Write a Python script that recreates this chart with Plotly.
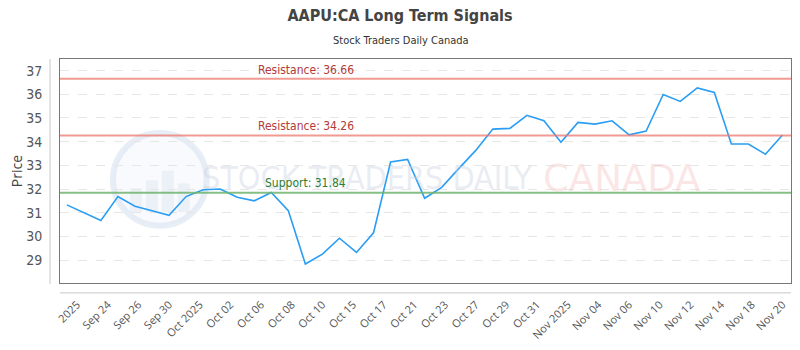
import numpy as np
import plotly.graph_objects as go

# ---- data ----
dates = ["2025-09-22","2025-09-23","2025-09-24","2025-09-25","2025-09-26","2025-09-29","2025-09-30",
         "2025-10-01","2025-10-02","2025-10-03","2025-10-06","2025-10-07","2025-10-08","2025-10-09",
         "2025-10-10","2025-10-14","2025-10-15","2025-10-16","2025-10-17","2025-10-20","2025-10-21",
         "2025-10-22","2025-10-23","2025-10-24","2025-10-27","2025-10-28","2025-10-29","2025-10-30",
         "2025-10-31","2025-11-03","2025-11-04","2025-11-05","2025-11-06","2025-11-07","2025-11-10",
         "2025-11-11","2025-11-12","2025-11-13","2025-11-14","2025-11-17","2025-11-18","2025-11-19",
         "2025-11-20"]
prices = [31.33, 31.00, 30.67, 31.68, 31.27, 31.08, 30.89, 31.68, 31.97, 32.00, 31.65, 31.50,
          31.85, 31.08, 28.83, 29.25, 29.92, 29.32, 30.15, 33.14, 33.25, 31.61, 32.07, 32.86,
          33.63, 34.53, 34.56, 35.11, 34.88, 33.97, 34.81, 34.74, 34.88, 34.29, 34.45, 35.99,
          35.70, 36.27, 36.08, 33.90, 33.90, 33.47, 34.28]
tick_labels = ["2025", "Sep 24", "Sep 26", "Sep 30", "Oct 2025", "Oct 02", "Oct 06", "Oct 08",
               "Oct 10", "Oct 15", "Oct 17", "Oct 21", "Oct 23", "Oct 27", "Oct 29", "Oct 31",
               "Nov 2025", "Nov 04", "Nov 06", "Nov 10", "Nov 12", "Nov 14", "Nov 18", "Nov 20"]
resistance_levels = [36.66, 34.26]
support_levels = [31.84]

title = "AAPU:CA Long Term Signals"
subtitle = "Stock Traders Daily Canada"

x = np.arange(len(prices))
n = len(prices)
tickvals = np.linspace(0.6, n - 1, len(tick_labels))

COND = "Liberation Sans Narrow, DejaVu Sans Condensed, Arial Narrow, sans-serif"

fig = go.Figure()

fig.add_trace(go.Scatter(
    x=x, y=prices, mode="lines",
    line=dict(color="#2a9df4", width=1.6),
    customdata=dates, hovertemplate="%{customdata}: %{y:.2f}<extra></extra>",
    showlegend=False,
))

shapes = []
annotations = []

def px_x(p):
    return (p - 60) / 732

def px_y(p):
    return (286 - p) / 227

# watermark logo (faint)
shapes.append(dict(type="circle", xref="paper", yref="paper",
                   x0=px_x(113), x1=px_x(207), y0=px_y(228), y1=px_y(134),
                   line=dict(color="rgba(214,224,238,0.55)", width=6),
                   fillcolor="rgba(238,242,248,0.35)", layer="below"))
for bx0, bx1, by in [(130, 142, 190), (146, 158, 182), (162, 174, 172), (178, 190, 185)]:
    shapes.append(dict(type="rect", xref="paper", yref="paper",
                       x0=px_x(bx0), x1=px_x(bx1), y0=px_y(214), y1=px_y(by),
                       line=dict(width=0), fillcolor="rgba(220,228,240,0.45)", layer="below"))
annotations.append(dict(text="STOCK TRADERS DAILY", xref="paper", yref="paper",
                        x=px_x(200), y=px_y(180), xanchor="left", yanchor="middle",
                        showarrow=False,
                        font=dict(family=COND, size=32, color="rgba(205,213,226,0.45)")))
annotations.append(dict(text="CANADA", xref="paper", yref="paper",
                        x=px_x(542), y=px_y(180), xanchor="left", yanchor="middle",
                        showarrow=False,
                        font=dict(family="DejaVu Sans, sans-serif", size=37, color="rgba(245,190,190,0.38)")))

for lv in resistance_levels:
    shapes.append(dict(type="line", xref="paper", yref="y", x0=0, x1=1, y0=lv, y1=lv,
                       line=dict(color="rgba(236,120,110,0.75)", width=2)))
    annotations.append(dict(text=f"Resistance: {lv:.2f}", xref="paper", yref="y",
                            x=px_x(306), y=lv, xanchor="center", yanchor="bottom",
                            showarrow=False, yshift=0,
                            font=dict(family=COND, size=12, color="#b23a3a")))
for lv in support_levels:
    shapes.append(dict(type="line", xref="paper", yref="y", x0=0, x1=1, y0=lv, y1=lv,
                       line=dict(color="rgba(110,180,110,0.85)", width=2)))
    annotations.append(dict(text=f"Support: {lv:.2f}", xref="paper", yref="y",
                            x=px_x(306), y=lv, xanchor="center", yanchor="bottom",
                            showarrow=False, yshift=1,
                            font=dict(family=COND, size=12, color="#2e7d32")))

# offset axis lines
shapes.append(dict(type="line", xref="paper", yref="paper", x0=-10 / 732, x1=-10 / 732,
                   y0=-1 / 227, y1=1, line=dict(color="#c8c8c8", width=1)))
shapes.append(dict(type="line", xref="paper", yref="paper", x0=0, x1=1,
                   y0=-10 / 227, y1=-10 / 227, line=dict(color="#c8c8c8", width=1)))

# subtitle
annotations.append(dict(text=subtitle, xref="paper", yref="paper",
                        x=px_x(401), y=px_y(40), xanchor="center", yanchor="middle",
                        showarrow=False, font=dict(family=COND, size=11, color="#333")))

fig.update_layout(
    width=800, height=350, autosize=False,
    margin=dict(l=60, r=8, t=59, b=64),
    paper_bgcolor="white", plot_bgcolor="white",
    title=dict(text=f"<b>{title}</b>", x=0.5, xref="container", xanchor="center",
               y=1 - 15 / 350, yref="container", yanchor="middle",
               font=dict(family=COND, size=16, color="#444")),
    shapes=shapes, annotations=annotations,
    xaxis=dict(range=[-0.4, n - 1 + 0.5], tickmode="array", tickvals=tickvals, ticktext=tick_labels,
               tickangle=-45, showgrid=False, zeroline=False,
               showline=True, linecolor="#777", linewidth=1, mirror=True,
               ticks="", ticklabelstandoff=10,
               tickfont=dict(family="Open Sans, DejaVu Sans, sans-serif", size=11, color="#555")),
    yaxis=dict(range=[28.03, 37.49], tickmode="array", tickvals=list(range(29, 38)),
               showgrid=True, gridcolor="#e6e6e6", griddash="dash", gridwidth=1, zeroline=False,
               showline=True, linecolor="#777", linewidth=1, mirror=True,
               ticks="", ticklabelstandoff=14,
               tickfont=dict(family=COND, size=14, color="#555"),
               title=dict(text="Price", standoff=0,
                          font=dict(family="Open Sans, DejaVu Sans, sans-serif", size=14, color="#444"))),
)

fig.write_html("out.html")
